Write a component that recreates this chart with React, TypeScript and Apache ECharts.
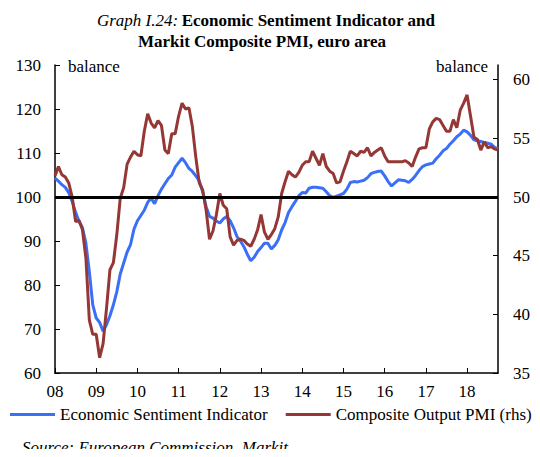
import React, { useEffect, useRef } from "react";
import * as echarts from "echarts";

// Monthly, Jan 2008 – Oct 2018
const yearLabels = ["08", "09", "10", "11", "12", "13", "14", "15", "16", "17", "18"];

const esi2008 = [104.3, 103.6, 102.8, 102.2, 101.0, 99.0, 96.5, 94.5, 93.0, 89.5, 83.0, 75.5];
const esi2009 = [72.5, 71.5, 69.5, 71.0, 73.0, 75.5, 78.5, 82.5, 85.0, 87.5, 89.2, 92.7];
const esi2010 = [94.6, 95.8, 97.0, 98.8, 99.7, 98.5, 100.3, 101.8, 103.0, 104.2, 105.0, 106.8];
const esi2011 = [107.8, 108.8, 107.8, 106.5, 105.8, 104.8, 103.7, 101.2, 97.8, 95.6, 95.2, 94.5];
const esi2012 = [94.1, 95.0, 95.6, 94.6, 93.0, 91.0, 90.0, 88.7, 87.0, 85.5, 86.3, 87.6];
const esi2013 = [88.5, 89.5, 89.5, 88.2, 89.0, 90.3, 92.5, 94.2, 96.5, 97.8, 99.0, 100.3];
const esi2014 = [101.0, 100.9, 102.0, 102.2, 102.2, 102.1, 102.0, 101.2, 100.3, 99.9, 100.2, 100.5];
const esi2015 = [100.8, 101.8, 103.3, 103.5, 103.4, 103.6, 103.8, 104.4, 105.3, 105.6, 105.8, 105.9];
const esi2016 = [104.8, 103.5, 102.5, 103.2, 103.9, 103.8, 103.7, 103.3, 104.0, 104.9, 106.0, 106.9];
const esi2017 = [107.3, 107.5, 107.7, 108.7, 109.5, 110.5, 111.0, 112.0, 112.8, 113.7, 114.3, 115.2];
const esi2018 = [114.8, 114.0, 113.0, 112.8, 112.6, 112.4, 112.2, 112.0, 111.3, 110.9];

const pmi2008 = [51.8, 52.6, 51.9, 51.7, 51.2, 50.0, 47.9, 48.0, 47.2, 44.8, 39.5, 38.3];
const pmi2009 = [38.3, 36.3, 37.5, 40.5, 43.8, 44.4, 46.8, 49.9, 50.8, 52.8, 53.4, 53.9];
const pmi2010 = [53.6, 53.5, 55.6, 57.1, 56.3, 55.9, 56.5, 56.1, 54.0, 53.7, 55.4, 55.4];
const pmi2011 = [56.9, 58.0, 57.5, 57.6, 56.0, 53.4, 51.2, 50.6, 48.9, 46.4, 47.1, 48.5];
const pmi2012 = [50.3, 49.3, 49.0, 46.6, 45.9, 46.3, 46.4, 46.3, 46.0, 45.8, 46.4, 47.2];
const pmi2013 = [48.5, 47.0, 46.4, 46.8, 47.3, 48.3, 50.3, 51.3, 52.2, 51.9, 51.7, 52.1];
const pmi2014 = [52.7, 53.0, 53.0, 53.9, 53.3, 52.7, 53.7, 52.6, 52.2, 52.0, 51.2, 51.3];
const pmi2015 = [52.2, 53.0, 53.9, 53.7, 53.5, 53.9, 53.8, 54.2, 53.5, 53.8, 54.0, 54.2];
const pmi2016 = [53.5, 53.0, 53.0, 53.0, 53.0, 53.0, 53.1, 52.9, 52.6, 53.4, 54.1, 54.2];
const pmi2017 = [54.2, 55.8, 56.4, 56.7, 56.6, 56.1, 55.6, 55.6, 56.6, 55.9, 57.4, 58.0];
const pmi2018 = [58.7, 56.9, 55.1, 54.9, 54.0, 54.7, 54.2, 54.3, 54.1, 54.0];

const esi = [
  ...esi2008, ...esi2009, ...esi2010, ...esi2011, ...esi2012, ...esi2013,
  ...esi2014, ...esi2015, ...esi2016, ...esi2017, ...esi2018,
];
const pmi = [
  ...pmi2008, ...pmi2009, ...pmi2010, ...pmi2011, ...pmi2012, ...pmi2013,
  ...pmi2014, ...pmi2015, ...pmi2016, ...pmi2017, ...pmi2018,
];

const months: string[] = esi.map((_, i) => {
  const y = yearLabels[Math.floor(i / 12)];
  return `${y}-${(i % 12) + 1}`;
});

const leftTicks = [60, 70, 80, 90, 100, 110, 120, 130];
const rightTicks = [35, 40, 45, 50, 55, 60];

const FONT = "'Liberation Serif', 'Times New Roman', serif";

export default function App() {
  const ref = useRef<HTMLDivElement>(null);
  useEffect(() => {
    if (!ref.current) return;
    const chart = echarts.init(ref.current, undefined, { renderer: "svg" });
    chart.setOption({
      animation: false,
      backgroundColor: "#fff",
      textStyle: { fontFamily: FONT, color: "#000" },
      grid: { left: 55, right: 42, top: 65, bottom: 84, containLabel: false },
      graphic: [
        {
          type: "text",
          x: 266,
          y: 20,
          style: {
            text: "{i|Graph I.24:} {b|Economic Sentiment Indicator and}",
            align: "center",
            verticalAlign: "middle",
            rich: {
              i: { fontFamily: FONT, fontStyle: "italic", fontSize: 17, fill: "#000" },
              b: { fontFamily: FONT, fontWeight: "bold", fontSize: 17, fill: "#000" },
            },
          },
        },
        {
          type: "text",
          x: 262,
          y: 41,
          style: {
            text: "Markit Composite PMI, euro area",
            align: "center",
            verticalAlign: "middle",
            fontFamily: FONT,
            fontWeight: "bold",
            fontSize: 17,
            fill: "#000",
          },
        },
        {
          type: "text",
          x: 68,
          y: 66,
          style: { text: "balance", fontFamily: FONT, fontSize: 17, fill: "#000", verticalAlign: "middle" },
        },
        {
          type: "text",
          x: 488,
          y: 66,
          style: { text: "balance", fontFamily: FONT, fontSize: 17, fill: "#000", align: "right", verticalAlign: "middle" },
        },
        {
          type: "text",
          x: 22,
          y: 447,
          style: {
            text: "Source: European Commission, Markit.",
            fontFamily: FONT,
            fontStyle: "italic",
            fontSize: 17,
            fill: "#000",
            verticalAlign: "middle",
          },
        },
      ],
      legend: {
        left: 10,
        top: 406,
        padding: 0,
        itemWidth: 45,
        itemHeight: 3,
        itemGap: 18,
        icon: "rect",
        textStyle: { fontFamily: FONT, fontSize: 17, color: "#000" },
        data: ["Economic Sentiment Indicator", "Composite Output PMI (rhs)"],
      },
      xAxis: {
        type: "category",
        data: months,
        boundaryGap: false,
        axisLine: { lineStyle: { color: "#000", width: 1.5 } },
        axisTick: { inside: true, length: 5, interval: 11, lineStyle: { color: "#000" } },
        axisLabel: {
          interval: 11,
          margin: 10,
          fontFamily: FONT,
          fontSize: 17,
          color: "#000",
          formatter: (v: string) => v.split("-")[0],
        },
        splitLine: { show: false },
      },
      yAxis: [
        {
          type: "value",
          min: 60,
          max: 130,
          interval: 10,
          position: "left",
          axisLine: { show: true, lineStyle: { color: "#000", width: 1.5 } },
          axisTick: { show: true, inside: true, length: 5, lineStyle: { color: "#000" } },
          axisLabel: { margin: 14, fontFamily: FONT, fontSize: 17, color: "#000", customValues: leftTicks },
          splitLine: { show: false },
        },
        {
          type: "value",
          min: 35,
          max: 61.25,
          interval: 5,
          position: "right",
          axisLine: { show: true, lineStyle: { color: "#000", width: 1.5 } },
          axisTick: { show: true, inside: true, length: 5, lineStyle: { color: "#000" }, customValues: rightTicks },
          axisLabel: {
            margin: 15,
            fontFamily: FONT,
            fontSize: 17,
            color: "#000",
            customValues: rightTicks,
            formatter: (v: number) => (v % 5 === 0 ? String(v) : ""),
          },
          splitLine: { show: false },
        },
      ],
      series: [
        {
          name: "Economic Sentiment Indicator",
          type: "line",
          data: esi,
          yAxisIndex: 0,
          showSymbol: false,
          symbol: "none",
          lineStyle: { color: "#3A6FF7", width: 3 },
          itemStyle: { color: "#3A6FF7" },
          z: 3,
          markLine: {
            silent: true,
            symbol: "none",
            label: { show: false },
            lineStyle: { color: "#000", width: 3, type: "solid" },
            data: [{ yAxis: 100 }],
          },
        },
        {
          name: "Composite Output PMI (rhs)",
          type: "line",
          data: pmi,
          yAxisIndex: 1,
          showSymbol: false,
          symbol: "none",
          lineStyle: { color: "#953735", width: 3 },
          itemStyle: { color: "#953735" },
          z: 4,
        },
      ],
    });
    return () => chart.dispose();
  }, []);
  return <div ref={ref} style={{ width: 540, height: 457, margin: -8 }} />;
}
